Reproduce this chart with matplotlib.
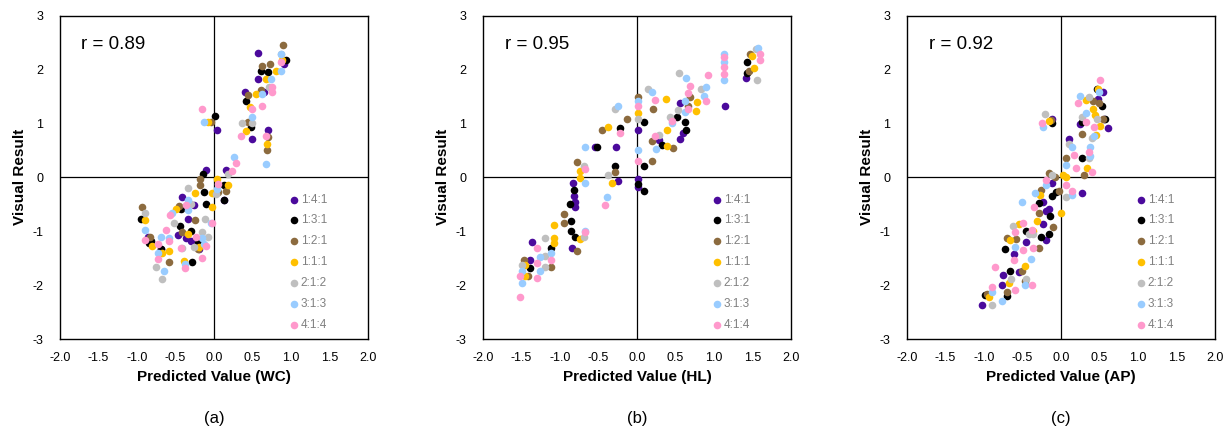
import matplotlib.pyplot as plt

plt.rcParams['font.family'] = ['Liberation Sans', 'DejaVu Sans']
plt.rcParams['axes.unicode_minus'] = False

ratios = ['1:4:1', '1:3:1', '1:2:1', '1:1:1', '2:1:2', '3:1:3', '4:1:4']
colors = ['#4b0a9c', '#000000', '#8c6b3f', '#ffc000', '#bfbfbf', '#99ccff', '#ff99cc']

# (a) WC : (x, y) per ratio
wc_141 = [(0.58, 2.30), (0.58, 1.83), (0.91, 2.10), (0.41, 1.58), (0.65, 1.58), (0.04, 0.87),
          (0.71, 0.87), (0.49, 0.71), (-0.10, 0.14), (0.16, 0.14), (0.13, -0.43), (-0.42, -0.37),
          (-0.26, -0.51), (-0.34, -0.77), (-0.47, -1.07), (-0.36, -1.13), (-0.30, -1.18),
          (-0.86, -1.11), (-0.19, -1.33), (-0.69, -1.33)]
wc_131 = [(0.61, 1.98), (0.70, 1.95), (0.94, 2.18), (0.42, 1.42), (0.48, 0.93), (0.02, 1.13),
          (-0.14, 0.06), (-0.13, -0.27), (0.13, -0.14), (0.13, -0.43), (-0.10, -0.50),
          (-0.43, -0.59), (-0.44, -0.91), (-0.30, -0.99), (-0.84, -1.22), (-0.69, -1.33),
          (-0.21, -1.21), (-0.28, -1.58), (-0.95, -0.77), (-0.82, -1.18)]
wc_121 = [(0.90, 2.45), (0.63, 2.07), (0.73, 2.11), (0.44, 1.53), (0.61, 1.61), (-0.04, 1.02),
          (0.44, 1.02), (0.69, 0.50), (-0.18, -0.03), (-0.18, -0.15), (0.05, -0.28),
          (-0.24, -0.80), (-0.42, -1.02), (-0.58, -1.58), (-0.93, -0.56), (-0.83, -1.11),
          (-0.21, -1.33), (0.70, 0.74), (0.16, -0.25), (-0.45, -0.53)]
wc_111 = [(0.81, 1.98), (0.68, 1.83), (0.89, 2.17), (0.55, 1.55), (0.47, 1.30), (0.42, 0.85),
          (0.69, 0.62), (-0.08, 1.02), (0.04, -0.03), (-0.24, -0.30), (0.18, -0.15),
          (-0.03, -0.30), (-0.03, -0.56), (-0.49, -0.59), (-0.90, -0.79), (-0.34, -1.05),
          (-0.80, -1.27), (-0.67, -1.41), (-0.39, -1.56), (-0.19, -1.29), (-0.58, -1.36)]
wc_212 = [(0.87, 2.29), (0.72, 1.68), (0.37, 1.01), (0.50, 1.01), (-0.33, -0.20), (0.03, -0.31),
          (-0.11, -0.77), (-0.15, -1.01), (-0.07, -1.11), (-0.90, -0.67), (-0.52, -0.85),
          (-0.42, -1.31), (-0.75, -1.67), (-0.67, -1.88), (-0.26, -1.30), (-0.30, -0.50),
          (0.18, 0.06)]
wc_313 = [(0.87, 1.98), (0.74, 1.83), (0.62, 1.55), (0.49, 1.11), (-0.13, 1.02), (0.26, 0.37),
          (0.68, 0.25), (0.04, -0.22), (-0.34, -0.43), (-0.34, -0.61), (-0.54, -0.66),
          (-0.04, -0.84), (-0.90, -0.98), (-0.69, -1.11), (-0.58, -1.13), (-0.73, -1.41),
          (-0.65, -1.73), (-0.38, -1.61), (-0.15, -1.13), (-0.13, -1.24), (0.87, 2.29)]
wc_414 = [(-0.15, 1.27), (0.87, 2.14), (0.76, 1.68), (0.76, 1.58), (0.62, 1.33), (0.50, 1.27),
          (0.35, 0.77), (0.68, 0.76), (0.29, 0.26), (0.23, 0.11), (0.05, -0.12), (-0.02, -0.85),
          (-0.36, -0.51), (-0.57, -0.70), (-0.62, -0.98), (-0.90, -1.16), (-0.72, -1.24),
          (-0.58, -1.18), (-0.23, -1.11), (-0.10, -1.27), (-0.43, -1.31), (-0.16, -1.50),
          (-0.73, -1.52), (-0.37, -1.69)]

# (b) HL
hl_141 = [(1.42, 1.84), (1.14, 1.33), (0.56, 1.38), (0.60, 0.83), (0.56, 0.71), (0.29, 0.69),
          (0.01, 0.87), (-0.27, 0.57), (-0.55, 0.57), (-0.24, -0.06), (0.01, -0.04), (0.01, -0.18),
          (-0.83, -0.10), (-0.82, -0.34), (-0.81, -0.55), (-1.37, -1.20), (-1.39, -1.53),
          (-0.84, -1.32), (-0.81, -0.45)]
hl_131 = [(1.43, 2.13), (1.43, 1.93), (0.52, 1.12), (0.63, 1.03), (0.64, 0.87), (0.32, 0.60),
          (0.09, 1.03), (-0.22, 0.92), (-0.52, 0.57), (-0.28, 0.21), (0.09, 0.21), (0.09, -0.26),
          (0.01, -0.13), (-0.82, -0.23), (-0.87, -0.50), (-0.86, -0.81), (-0.86, -1.00),
          (-0.81, -1.11), (-1.12, -1.31), (-1.39, -1.68)]
hl_121 = [(1.47, 2.28), (1.46, 1.98), (0.69, 1.48), (0.67, 1.33), (0.21, 1.27), (0.47, 0.54),
          (0.19, 0.67), (0.19, 0.30), (0.01, 1.48), (-0.13, 1.08), (-0.45, 0.87), (-0.28, 0.10),
          (-0.78, 0.29), (-0.95, -0.69), (-0.95, -0.85), (-1.47, -1.53), (-1.42, -1.83),
          (-1.12, -1.67), (-0.78, -1.36)]
hl_111 = [(1.50, 2.24), (1.52, 2.02), (0.78, 1.39), (0.77, 1.23), (0.38, 1.46), (0.39, 0.87),
          (0.39, 0.58), (0.01, 1.19), (-0.38, 0.93), (-0.33, -0.11), (-0.74, 0.12), (-0.74, -0.02),
          (-1.08, -0.88), (-1.08, -1.13), (-1.08, -1.22), (-0.74, -1.14), (-1.46, -1.62),
          (-1.46, -1.84)]
hl_212 = [(1.56, 1.80), (1.55, 2.38), (0.55, 1.94), (0.14, 1.64), (0.83, 1.63), (0.54, 1.24),
          (0.43, 1.12), (0.29, 0.78), (0.01, 1.08), (-0.28, 1.27), (-0.38, 0.04), (-0.69, 0.21),
          (-1.20, -1.13), (-1.20, -1.46), (-1.19, -1.66), (-1.49, -1.63), (-0.69, -1.11)]
hl_313 = [(1.58, 2.40), (1.13, 2.29), (1.13, 2.13), (1.13, 1.80), (0.64, 1.84), (0.19, 1.58),
          (0.90, 1.67), (0.87, 1.50), (0.63, 1.41), (0.63, 1.21), (0.45, 1.01), (0.25, 0.52),
          (0.01, 0.50), (0.01, 1.41), (-0.25, 1.32), (-0.68, 0.57), (-0.68, -0.10), (-0.39, -0.36),
          (-0.68, -1.00), (-1.12, -1.40), (-1.26, -1.48), (-1.26, -1.73), (-1.49, -1.73),
          (-1.50, -1.97)]
hl_414 = [(1.60, 2.28), (1.60, 2.18), (1.13, 2.23), (1.13, 2.04), (1.13, 1.91), (0.93, 1.90),
          (0.69, 1.69), (0.67, 1.57), (0.67, 1.27), (0.90, 1.41), (0.45, 1.04), (0.24, 0.77),
          (0.24, 1.44), (0.01, 1.33), (0.01, 0.30), (-0.22, 0.83), (-0.67, 0.15), (-0.41, -0.52),
          (-0.67, -1.01), (-1.12, -1.53), (-1.30, -1.31), (-1.30, -1.59), (-1.30, -1.86),
          (-1.52, -1.83), (-1.52, -2.23)]

# (c) AP
ap_141 = [(0.55, 1.59), (0.61, 0.92), (0.56, 1.08), (0.48, 1.46), (0.25, 0.98), (-0.11, 1.08),
          (0.10, 0.71), (0.28, -0.30), (-0.12, -0.11), (-0.23, -0.45), (-0.19, -0.63),
          (-0.23, -0.87), (-0.15, -0.58), (-0.19, -1.17), (-0.45, -1.20), (-0.61, -1.43),
          (-0.54, -1.75), (-0.75, -1.81), (-0.77, -2.00), (-1.02, -2.37)]
ap_131 = [(0.47, 1.63), (0.53, 1.33), (0.57, 1.08), (0.27, 1.03), (-0.12, 1.01), (0.28, 0.35),
          (-0.06, -0.28), (-0.29, -0.48), (-0.14, -0.71), (-0.15, -1.06), (-0.26, -1.11),
          (-0.45, -1.00), (-0.72, -1.33), (-0.66, -1.73), (-0.70, -2.20), (-0.99, -2.18),
          (-0.12, -0.34)]
ap_121 = [(0.42, 1.41), (0.50, 1.37), (0.55, 1.08), (0.28, 0.81), (-0.13, 1.06), (0.07, 0.35),
          (0.30, 0.04), (-0.15, 0.07), (-0.08, 0.00), (-0.03, -0.25), (-0.26, -0.24),
          (-0.28, -0.66), (-0.10, -0.93), (-0.29, -1.31), (-0.58, -1.14), (-0.70, -1.13),
          (-0.50, -1.73), (-0.47, -1.92), (-0.70, -2.12), (-0.96, -2.17)]
ap_111 = [(0.48, 1.63), (0.33, 1.43), (0.42, 1.26), (0.45, 1.16), (0.51, 0.95), (0.46, 0.78),
          (-0.16, 1.04), (0.34, 0.17), (0.03, 0.04), (0.07, 0.01), (0.00, -0.66), (-0.27, -0.33),
          (-0.31, -0.81), (-0.54, -0.87), (-0.36, -1.00), (-0.66, -1.17), (-0.47, -1.65),
          (-0.68, -1.97), (-0.93, -2.22)]
ap_212 = [(0.37, 1.49), (0.27, 1.12), (0.47, 1.08), (0.41, 0.72), (0.37, 0.36), (0.11, 0.61),
          (-0.21, 1.17), (0.07, -0.36), (-0.11, 0.04), (-0.42, -1.06), (-0.36, -1.06),
          (-0.62, -0.91), (-0.65, -1.89), (-0.90, -2.37), (-0.45, -1.89)]
ap_313 = [(0.25, 1.50), (0.50, 1.58), (0.33, 1.20), (0.43, 0.76), (0.38, 0.57), (0.38, 0.40),
          (0.15, 0.57), (0.07, 0.23), (0.15, -0.33), (-0.19, -0.14), (-0.34, -0.30),
          (-0.51, -0.45), (-0.60, -1.30), (-0.39, -1.51), (-0.89, -2.12), (-0.77, -2.29),
          (-0.47, -1.99), (-0.23, 0.93)]
ap_414 = [(0.51, 1.80), (0.22, 1.38), (0.33, 1.03), (0.43, 0.93), (0.36, 0.47), (0.17, 0.41),
          (0.40, 0.10), (0.20, 0.17), (0.07, -0.15), (0.15, -0.25), (-0.19, -0.05), (-0.35, -0.56),
          (-0.49, -0.85), (-0.60, -1.01), (-0.61, -1.53), (-0.49, -1.34), (-0.36, -1.32),
          (-0.38, -0.97), (-0.86, -1.67), (-0.89, -2.03), (-0.60, -2.10), (-0.37, -2.00),
          (-0.24, 1.01)]

panels = [
    ('Predicted Value (WC)', 'r = 0.89', '(a)', [wc_141, wc_131, wc_121, wc_111, wc_212, wc_313, wc_414]),
    ('Predicted Value (HL)', 'r = 0.95', '(b)', [hl_141, hl_131, hl_121, hl_111, hl_212, hl_313, hl_414]),
    ('Predicted Value (AP)', 'r = 0.92', '(c)', [ap_141, ap_131, ap_121, ap_111, ap_212, ap_313, ap_414]),
]
lefts = [0.0487, 0.3924, 0.7368]

fig = plt.figure(figsize=(12.31, 4.30), dpi=100)

for left, (xlabel, rtext, tag, series) in zip(lefts, panels):
    ax = fig.add_axes([left, 0.2116, 0.2500, 0.7523])
    ax.axhline(0, color='black', lw=0.9, zorder=1)
    ax.axvline(0, color='black', lw=0.9, zorder=1)
    for pts, lab, col in zip(series, ratios, colors):
        xs = [p[0] for p in pts]
        ys = [p[1] for p in pts]
        ax.scatter(xs, ys, s=30, color=col, label=lab, linewidths=0, zorder=3)
    ax.set_xlim(-2, 2)
    ax.set_ylim(-3, 3)
    ax.set_xticks([-2.0, -1.5, -1.0, -0.5, 0.0, 0.5, 1.0, 1.5, 2.0])
    ax.set_xticklabels(['%.1f' % v for v in ax.get_xticks()])
    ax.set_yticks(range(-3, 4))
    ax.tick_params(length=0, labelsize=9, pad=9)
    ax.tick_params(axis='y', pad=12)
    for sp in ax.spines.values():
        sp.set_linewidth(1.0)
        sp.set_color('black')
    ax.set_xlabel(xlabel, fontsize=11, fontweight='bold', labelpad=5)
    ax.set_ylabel('Visual Result', fontsize=11, fontweight='bold', labelpad=4)
    ax.text(0.07, 0.91, rtext, transform=ax.transAxes, fontsize=13.5, va='center')
    ax.text(0.5, -0.245, tag, transform=ax.transAxes, fontsize=12, ha='center', va='center')
    leg = ax.legend(loc='lower right', bbox_to_anchor=(0.895, 0.0), frameon=False, fontsize=8.5,
                    labelcolor='#808080', handletextpad=0.1, labelspacing=0.75,
                    markerscale=1.0, borderaxespad=0.3, handlelength=1.0)

fig.savefig('out.png', dpi=100)
